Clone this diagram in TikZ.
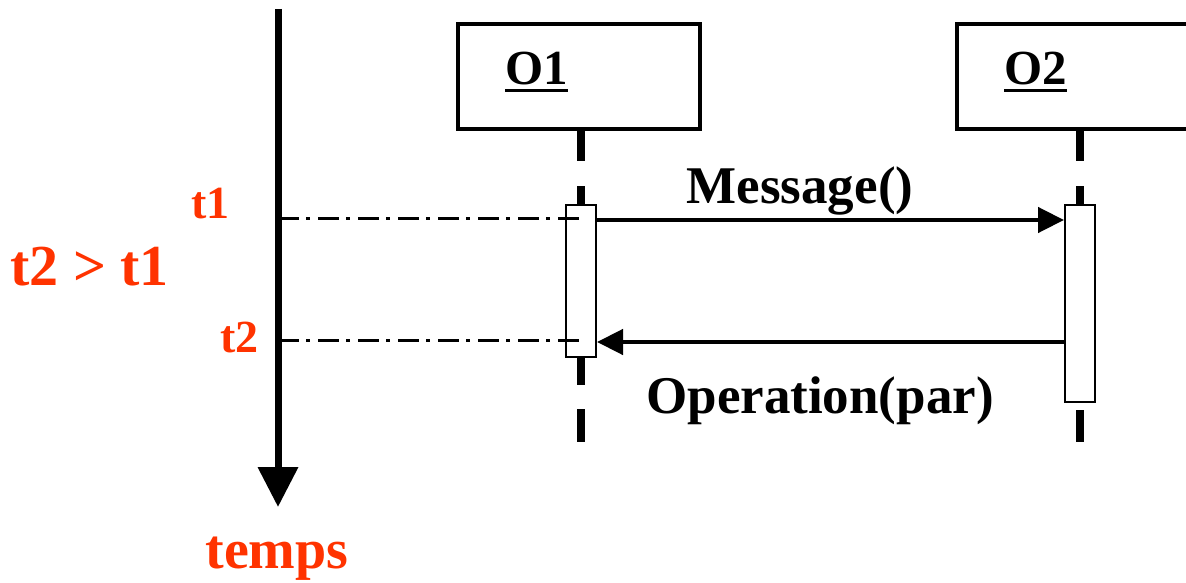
\documentclass[tikz,border=0pt]{standalone}
\usepackage{fontspec}
\setmainfont{Liberation Serif}
\usetikzlibrary{arrows.meta}
\definecolor{timered}{RGB}{255,51,0}
\begin{document}
\begin{tikzpicture}[x=1pt,y=-1pt,
  objbox/.style={draw,line width=4pt,fill=white,minimum width=242pt,minimum height=104.5pt,inner sep=0pt},
  objname/.style={anchor=base west,inner sep=0pt,font=\fontsize{49}{52}\selectfont\bfseries},
  actbox/.style={draw,line width=2pt,fill=white,minimum width=30pt,inner sep=0pt},
  lifeline/.style={line width=8pt},
  msg/.style={line width=4.5pt,-{Triangle[length=26pt,width=25pt]}},
  msglabel/.style={anchor=base,inner sep=0pt,font=\fontsize{53}{56}\selectfont\bfseries},
  timelabel/.style={inner sep=0pt,text=timered,font=\fontsize{#1}{#1}\selectfont\bfseries},
  timemark/.style={line width=3pt,dash pattern=on 21pt off 7pt on 4pt off 8pt},
]
\useasboundingbox (0,0) rectangle (1186,583);
\clip (0,0) rectangle (1186,583);

% object boxes and their names
\node[objbox] (o1) at (579,76.75) {};
\node[objbox] (o2) at (1078,76.75) {};
\node[objname] (n1) at (505,85) {O1};
\node[objname] (n2) at (1004,85) {O2};
\draw[line width=3pt] ([yshift=-6pt]n1.base west) -- ([yshift=-6pt]n1.base east);
\draw[line width=3pt] ([yshift=-6pt]n2.base west) -- ([yshift=-6pt]n2.base east);

% activation bars
\node[actbox,minimum height=152pt] (a1) at (581,281) {};
\node[actbox,minimum height=197pt] (a2) at (1080,303.5) {};

% lifelines (dashed pieces)
\draw[lifeline] (a1 |- o1.south) -- (581,161);
\draw[lifeline] (581,186) -- (a1.north);
\draw[lifeline] (a1.south) -- (581,385);
\draw[lifeline] (581,409) -- (581,442);
\draw[lifeline] (a2 |- o2.south) -- (1080,161);
\draw[lifeline] (1080,186) -- (a2.north);
\draw[lifeline] (1080,410) -- (1080,442);

% time axis
\coordinate (axtop) at (278,9);
\coordinate (axend) at (278,507);
\draw[line width=7pt,-{Triangle[length=40pt,width=39pt]}] (axtop) -- (axend);
\node[timelabel=56,anchor=base] (temps) at (277,568) {temps};

% instants t1 and t2
\coordinate (y1) at (0,218);
\coordinate (y2) at (0,340);
\draw[timemark] (axtop |- y1) -- (a1.center |- y1);
\draw[timemark] (axtop |- y2) -- (a1.center |- y2);
\node[timelabel=46,anchor=base west] (t1) at (191,218) {t1};
\node[timelabel=46,anchor=base west] (t2) at (220,352) {t2};
\node[timelabel=58,anchor=base west] (cmp) at (10,285) {t2 > t1};

% messages
\coordinate (ym) at (0,220);
\coordinate (yr) at (0,342);
\draw[msg] (a1.east |- ym) -- (a2.west |- ym);
\draw[msg] (a2.west |- yr) -- (a1.east |- yr);
\node[msglabel] (lm) at (800,203) {Message()};
\node[msglabel] (lr) at (820,413) {Operation(par)};
\end{tikzpicture}
\end{document}
